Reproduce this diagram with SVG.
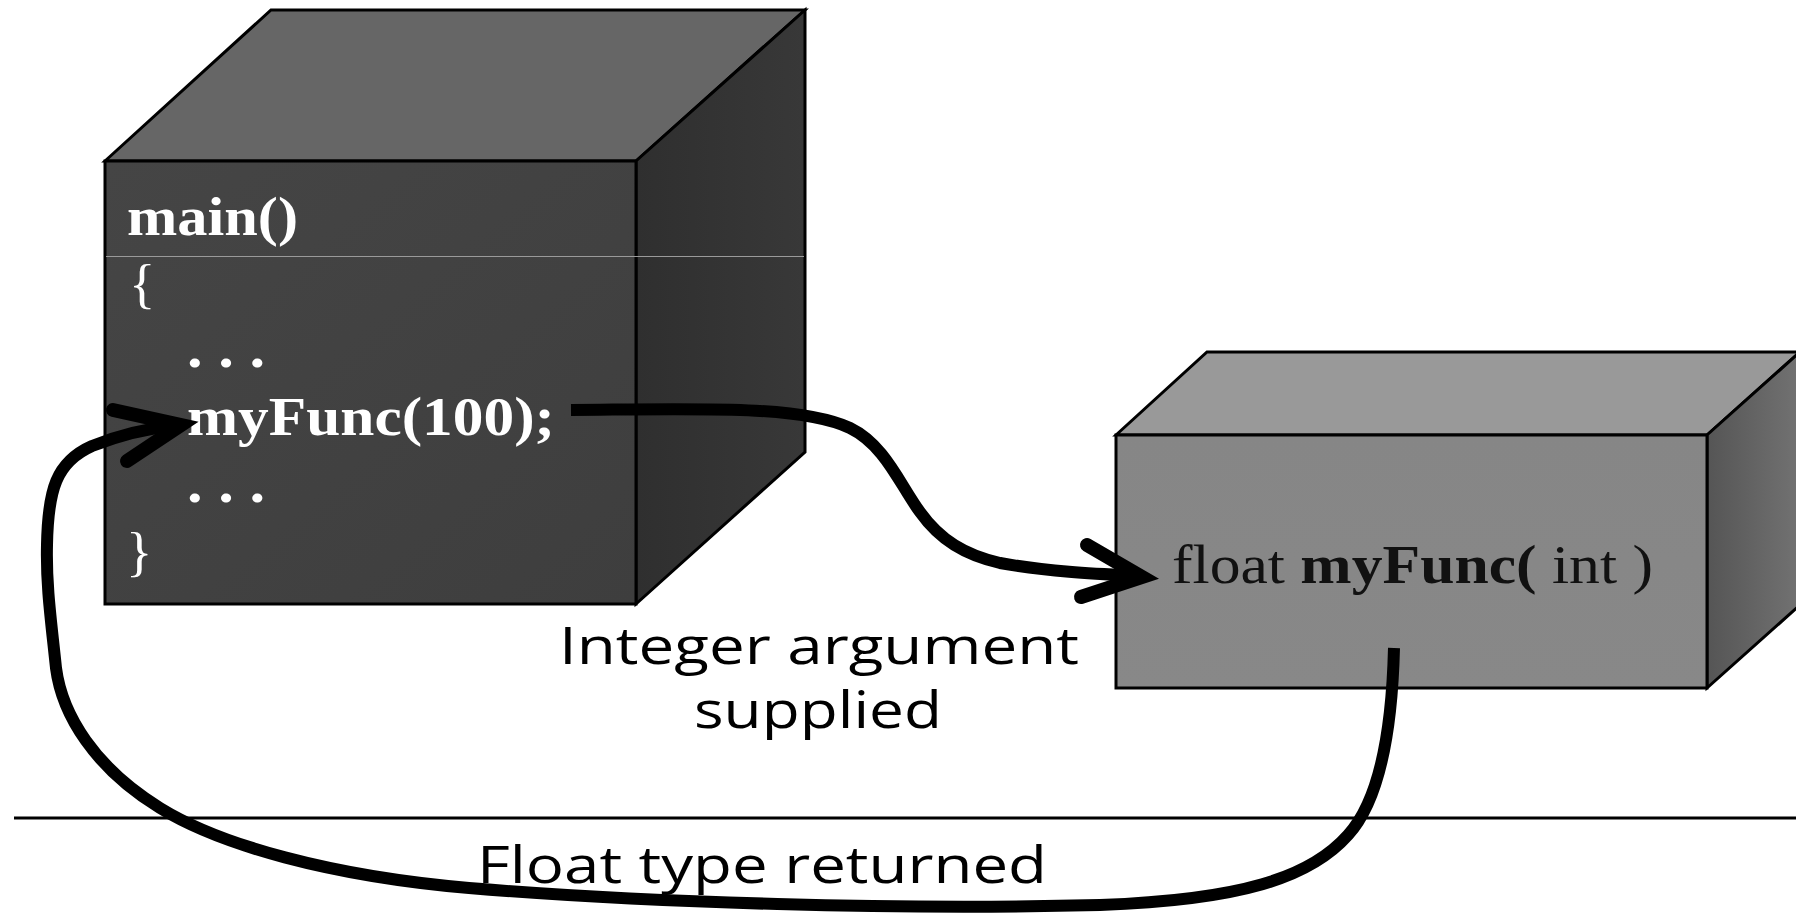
<svg xmlns="http://www.w3.org/2000/svg" width="1796" height="913" viewBox="0 0 1796 913">
  <defs>
    <linearGradient id="darkFront" x1="0" y1="0" x2="1" y2="1">
      <stop offset="0" stop-color="#454545"/>
      <stop offset="1" stop-color="#3e3e3e"/>
    </linearGradient>
    <linearGradient id="darkSide" x1="0" y1="0" x2="1" y2="0">
      <stop offset="0" stop-color="#2f2f2f"/>
      <stop offset="1" stop-color="#383838"/>
    </linearGradient>
    <linearGradient id="greyFront" x1="0" y1="0" x2="0" y2="1">
      <stop offset="0" stop-color="#868686"/>
      <stop offset="1" stop-color="#888888"/>
    </linearGradient>
    <linearGradient id="greySide" x1="0" y1="0" x2="1" y2="0">
      <stop offset="0" stop-color="#555555"/>
      <stop offset="1" stop-color="#727272"/>
    </linearGradient>
    <style>
      .edge { stroke: #000; stroke-width: 3; stroke-linejoin: miter; }
      .code { font-family: "Liberation Serif", "Times New Roman", serif; font-size: 55px; fill: #ffffff; }
      .codeb { font-weight: bold; }
      .sig { font-family: "Liberation Serif", "Times New Roman", serif; font-size: 55px; fill: #111111; }
      .lbl { font-family: "Open Sans", "Noto Sans", "DejaVu Sans", sans-serif; font-size: 52px; fill: #000; }
      .conn { fill: none; stroke: #000; stroke-width: 12; stroke-linecap: butt; stroke-linejoin: round; }
      .head { fill: none; stroke: #000; stroke-width: 14; stroke-linecap: round; stroke-linejoin: miter; }
    </style>
  </defs>
  <rect width="1796" height="913" fill="#ffffff"/>

  <line x1="14" y1="818" x2="1796" y2="818" stroke="#000" stroke-width="3"/>

  <g id="main-box">
    <polygon class="edge" points="105,161 271,10 805,10 636,161" fill="#666666"/>
    <polygon class="edge" points="636,161 805,10 805,452 636,604" fill="url(#darkSide)"/>
    <rect class="edge" x="105" y="161" width="531" height="443" fill="url(#darkFront)"/>
    <line x1="106" y1="256.5" x2="804" y2="256.5" stroke="#9a9a9a" stroke-width="1"/>
    <text class="code codeb" x="127" y="235" textLength="171" lengthAdjust="spacingAndGlyphs">main()</text>
    <text class="code" x="129" y="302">{</text>
    <text class="code codeb" x="187" y="367" textLength="78" lengthAdjust="spacingAndGlyphs">. . .</text>
    <text class="code codeb" x="187" y="435" textLength="368" lengthAdjust="spacingAndGlyphs">myFunc(100);</text>
    <text class="code codeb" x="187" y="502" textLength="78" lengthAdjust="spacingAndGlyphs">. . .</text>
    <text class="code" x="126" y="570">}</text>
  </g>

  <g id="myfunc-box">
    <polygon class="edge" points="1116,435 1207,352 1800,352 1707,435" fill="#999999"/>
    <polygon class="edge" points="1707,435 1800,352 1800,605 1707,688" fill="url(#greySide)"/>
    <rect class="edge" x="1116" y="435" width="591" height="253" fill="url(#greyFront)"/>
    <text class="sig" x="1172" y="583" textLength="481" lengthAdjust="spacingAndGlyphs">float <tspan font-weight="bold">myFunc(</tspan> int )</text>
  </g>

  <g id="connectors">
    <path class="conn" d="M571,410 C700,409 800,405 850,428 C885,445 900,485 920,512 C940,540 965,555 1000,563 C1050,572 1100,574 1140,576"/>
    <path class="head" d="M1087,545 L1142,577 L1081,597"/>
    <path class="conn" stroke-width="11" d="M1394,648 C1392,730 1380,800 1348,835 C1310,878 1240,900 1100,905 C900,910 650,903 469,888 C330,876 220,845 160,808 C95,768 62,715 56,668 C51,620 46,585 47,545 C48,490 56,462 92,446 C122,434 150,428 178,425"/>
    <path class="head" d="M113,410 L181,425 L127,461"/>
  </g>

  <g id="labels">
    <text class="lbl" x="559" y="664" textLength="520" lengthAdjust="spacingAndGlyphs">Integer argument</text>
    <text class="lbl" x="694" y="728" textLength="248" lengthAdjust="spacingAndGlyphs">supplied</text>
    <text class="lbl" x="477" y="883" textLength="570" lengthAdjust="spacingAndGlyphs">Float type returned</text>
  </g>
</svg>
